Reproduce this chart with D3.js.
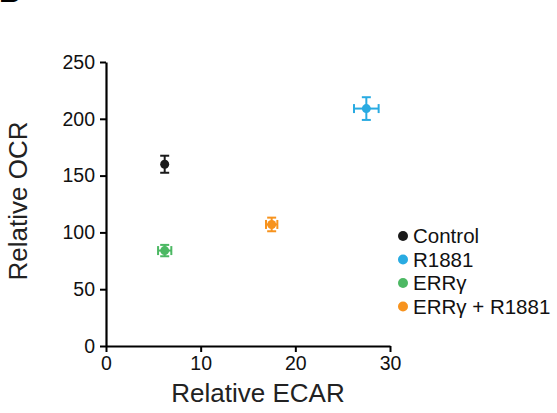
<!DOCTYPE html>
<html>
<head>
<meta charset="utf-8">
<script src="https://cdn.jsdelivr.net/npm/d3@7"></script>
<style>
  html, body { margin: 0; padding: 0; background: #fff; }
  svg { display: block; font-family: "Liberation Sans", Arial, Helvetica, sans-serif; }
</style>
</head>
<body>
<svg id="chart" width="557" height="413"></svg>
<script>
// Groups and their mean ECAR / OCR with error (SEM)
const groups = ["Control", "R1881", "ERRγ", "ERRγ + R1881"];
const colors = ["#1a1a1a", "#29abe2", "#4cb863", "#f7931e"];
const ecar = [6.2, 27.5, 6.2, 17.5];
const ecarErr = [0, 1.3, 0.7, 0.6];
const ocr = [160, 209, 84, 107];
const ocrErr = [7.5, 10, 5, 6];
const xTicks = [0, 10, 20, 30];
const yTicks = [0, 50, 100, 150, 200, 250];

const svg = d3.select("#chart");
const x = d3.scaleLinear().domain([0, 30]).range([106, 390]);
const y = d3.scaleLinear().domain([0, 250]).range([346, 62]);

// Panel letter (runs off the top edge)
svg.append("text").attr("x", -1).attr("y", 2)
  .attr("font-size", 30).attr("font-weight", "bold").text("B");

// Axes
const xAxis = svg.append("g").attr("transform", `translate(0,${y(0)})`)
  .call(d3.axisBottom(x).tickValues(xTicks).tickSize(6).tickPadding(4).tickSizeOuter(0));
const yAxis = svg.append("g").attr("transform", `translate(${x(0)},0)`)
  .call(d3.axisLeft(y).tickValues(yTicks).tickSize(6).tickPadding(5).tickSizeOuter(0));
[xAxis, yAxis].forEach(g => {
  g.select(".domain").attr("stroke", "#000").attr("stroke-width", 2.2);
  g.selectAll(".tick line").attr("stroke", "#000").attr("stroke-width", 2);
  g.selectAll(".tick text").attr("font-size", 19.5).attr("fill", "#111")
    .attr("font-family", "Liberation Sans, Arial, sans-serif");
});

// Axis titles
svg.append("text").attr("x", 258).attr("y", 402).attr("text-anchor", "middle")
  .attr("font-size", 26).attr("fill", "#222").text("Relative ECAR");
svg.append("text").attr("transform", "translate(27,201) rotate(-90)")
  .attr("text-anchor", "middle").attr("font-size", 26).attr("fill", "#222").text("Relative OCR");

// Points with error bars
const cap = 4.5;
const pts = svg.append("g").selectAll("g").data(groups).join("g")
  .attr("stroke", (d, i) => colors[i]).attr("fill", (d, i) => colors[i]);
pts.each(function(d, i) {
  const g = d3.select(this);
  const cx = x(ecar[i]), cy = y(ocr[i]);
  const y0 = y(ocr[i] - ocrErr[i]), y1 = y(ocr[i] + ocrErr[i]);
  g.append("line").attr("x1", cx).attr("x2", cx).attr("y1", y0).attr("y2", y1).attr("stroke-width", 2);
  g.append("line").attr("x1", cx - cap).attr("x2", cx + cap).attr("y1", y0).attr("y2", y0).attr("stroke-width", 2);
  g.append("line").attr("x1", cx - cap).attr("x2", cx + cap).attr("y1", y1).attr("y2", y1).attr("stroke-width", 2);
  if (ecarErr[i] > 0) {
    const x0 = x(ecar[i] - ecarErr[i]), x1 = x(ecar[i] + ecarErr[i]);
    g.append("line").attr("x1", x0).attr("x2", x1).attr("y1", cy).attr("y2", cy).attr("stroke-width", 2);
    g.append("line").attr("x1", x0).attr("x2", x0).attr("y1", cy - cap).attr("y2", cy + cap).attr("stroke-width", 2);
    g.append("line").attr("x1", x1).attr("x2", x1).attr("y1", cy - cap).attr("y2", cy + cap).attr("stroke-width", 2);
  }
  g.append("circle").attr("cx", cx).attr("cy", cy).attr("r", 4.5).attr("stroke", "none");
});

// Legend
const legend = svg.append("g").attr("transform", "translate(403,236)");
const rows = legend.selectAll("g").data(groups).join("g")
  .attr("transform", (d, i) => `translate(0,${i * 23.5})`);
rows.append("circle").attr("r", 5).attr("fill", (d, i) => colors[i]);
rows.append("text").attr("x", 10).attr("y", 7).attr("font-size", 20.5).attr("fill", "#111").text(d => d);
</script>
</body>
</html>
